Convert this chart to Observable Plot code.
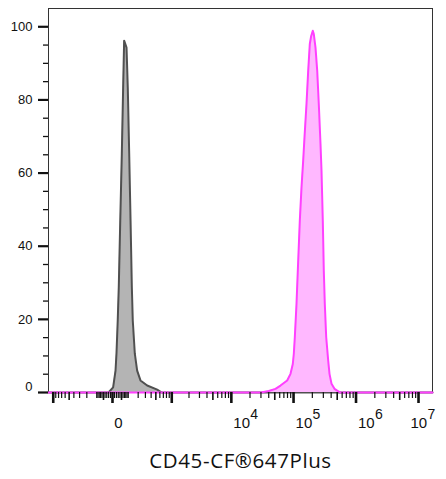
<!DOCTYPE html>
<html><head><meta charset="utf-8">
<script src="https://cdn.jsdelivr.net/npm/d3@7"></script>
<script src="https://cdn.jsdelivr.net/npm/@observablehq/plot@0.6"></script>
<style>body{margin:0;background:#fff}</style>
</head><body><div id="chart"></div>
<script>
// Grey histogram (unstained / isotype), x = fluorescence, y = % of max
const greyX = [-1215, -20, 3, 15, 20, 27, 33, 42, 52, 61, 68, 86, 96, 108, 120, 132, 141, 162, 188, 229, 329, 532, 650, 1.674e7];
const greyY = [0, 0, 1.4, 6.0, 10.6, 19.7, 28.8, 47.0, 65.2, 83.4, 96.2, 94.3, 83.4, 65.2, 47.0, 28.8, 19.7, 10.6, 6.0, 3.3, 1.9, 0.8, 0, 0];
// Pink histogram (CD45-CF647Plus stained)
const pinkX = [-1215, 30000, 40000, 51400, 61800, 79100, 89400, 97300, 101000, 104800, 111500, 117000, 126000, 134100, 142700, 149800, 161200, 171700, 182100, 191700, 203400, 211000, 224700, 239200, 253700, 270100, 280300, 294000, 305100, 316600, 333400, 358800, 376400, 405300, 452600, 500000, 560000, 1.674e7];
const pinkY = [0, 0, 0.4, 1.0, 1.9, 3.3, 5.1, 7.8, 10.6, 15.1, 24.2, 33.3, 47.0, 56.1, 63.4, 69.8, 78.9, 88.0, 95.3, 97.5, 98.9, 98.0, 94.3, 88.0, 78.9, 68.0, 60.7, 47.0, 33.3, 24.2, 15.1, 8.7, 5.1, 2.4, 1.0, 0.5, 0, 0];

const yLabelTicks = [20, 40, 60, 80, 100];
const yZeroTick = [0];
const yMinorTicks = [5, 10, 15, 25, 30, 35, 45, 50, 55, 65, 70, 75, 85, 90, 95];
const xMajorTicks = [-1000, 0, 1000, 1e4, 1e5, 1e6, 1e7];
const xLabelValues = [1e4, 1e5, 1e6, 1e7];
const xLabelExps = ["4", "5", "6", "7"];
const xZeroLabel = "0";
const xTitle = "CD45-CF\u00AE647Plus";

// minor / mid tick values of the biexponential axis
const xMidTicks = [-500, -50, 50, 500, 5000, 5e4, 5e5, 5e6];
const xMinorTicks = [];
for (const dec of [10, 100]) for (let m = 1; m <= 9; m++) {
  if (m !== 5) { xMinorTicks.push(m * dec); xMinorTicks.push(-m * dec); }
}
for (const dec of [1000, 1e4, 1e5, 1e6]) for (let m = 2; m <= 9; m++) if (m !== 5) xMinorTicks.push(m * dec);

const grey = greyX.map((x, i) => ({x, y: greyY[i]}));
const pink = pinkX.map((x, i) => ({x, y: pinkY[i]}));

const axisFont = "'Liberation Sans', Arial, sans-serif";
const lbl = xLabelValues.map((v, i) => ({v, e: xLabelExps[i]}));
const lblMain = lbl.slice(0, -1), lblLast = lbl.slice(-1);
const bt = {frameAnchor: "bottom", lineAnchor: "middle"};

const chart = Plot.plot({
  width: 446, height: 479,
  marginLeft: 48, marginRight: 14, marginTop: 8, marginBottom: 87,
  style: {fontFamily: axisFont, background: "#fff", color: "#111"},
  x: {type: "symlog", constant: 127, domain: [-1215, 1.674e7], nice: false},
  y: {domain: [0, 105]},
  marks: [
    Plot.frame({stroke: "#333", strokeWidth: 1}),
    Plot.areaY(grey, {x: "x", y: "y", fill: "#b4b4b4"}),
    Plot.lineY(grey, {x: "x", y: "y", stroke: "#505050", strokeWidth: 2}),
    Plot.areaY(pink, {x: "x", y: "y", fill: "#ffb8ff"}),
    Plot.lineY(pink, {x: "x", y: "y", stroke: "#ff40ff", strokeWidth: 2}),
    // y axis
    Plot.axisY({ticks: yLabelTicks, tickSize: 10, strokeWidth: 2.2, tickPadding: 6, fontSize: 13, label: null}),
    Plot.axisY({ticks: yZeroTick, tickSize: 10, strokeWidth: 2.2, fill: "none", label: null}),
    Plot.text(yZeroTick, {y: d => d, frameAnchor: "left", dx: -16, dy: -6, textAnchor: "end", fontSize: 13, text: d => String(d)}),
    Plot.axisY({ticks: yMinorTicks, tickSize: 5, strokeWidth: 1.3, fill: "none", label: null}),
    // x axis
    Plot.axisX({ticks: xMajorTicks, tickSize: 11, strokeWidth: 2.6, fill: "none", label: null}),
    Plot.axisX({ticks: xMidTicks, tickSize: 8, strokeWidth: 1.6, fill: "none", label: null}),
    Plot.axisX({ticks: xMinorTicks, tickSize: 6, strokeWidth: 1.2, fill: "none", label: null}),
    Plot.text([0], {x: d => d, ...bt, dy: 31, dx: 6, fontSize: 15, text: () => xZeroLabel}),
    Plot.text(lblMain, {x: "v", ...bt, dy: 31, dx: 2, textAnchor: "start", fontSize: 15, text: () => "10"}),
    Plot.text(lblMain, {x: "v", ...bt, dy: 22, dx: 19, textAnchor: "start", fontSize: 14, text: "e"}),
    Plot.text(lblLast, {x: "v", ...bt, dy: 31, dx: -8, textAnchor: "start", fontSize: 15, text: () => "10"}),
    Plot.text(lblLast, {x: "v", ...bt, dy: 22, dx: 9, textAnchor: "start", fontSize: 14, text: "e"}),
    // title
    Plot.text([xTitle], {...bt, dy: 69, fontSize: 20.5, fontFamily: "'Open Sans'", fill: "#111", text: d => d, className: "xtitle"})
  ]
});
d3.select(chart).selectAll(".xtitle text").attr("letter-spacing", "0.6px");
document.getElementById("chart").appendChild(chart);
</script>
</body></html>
